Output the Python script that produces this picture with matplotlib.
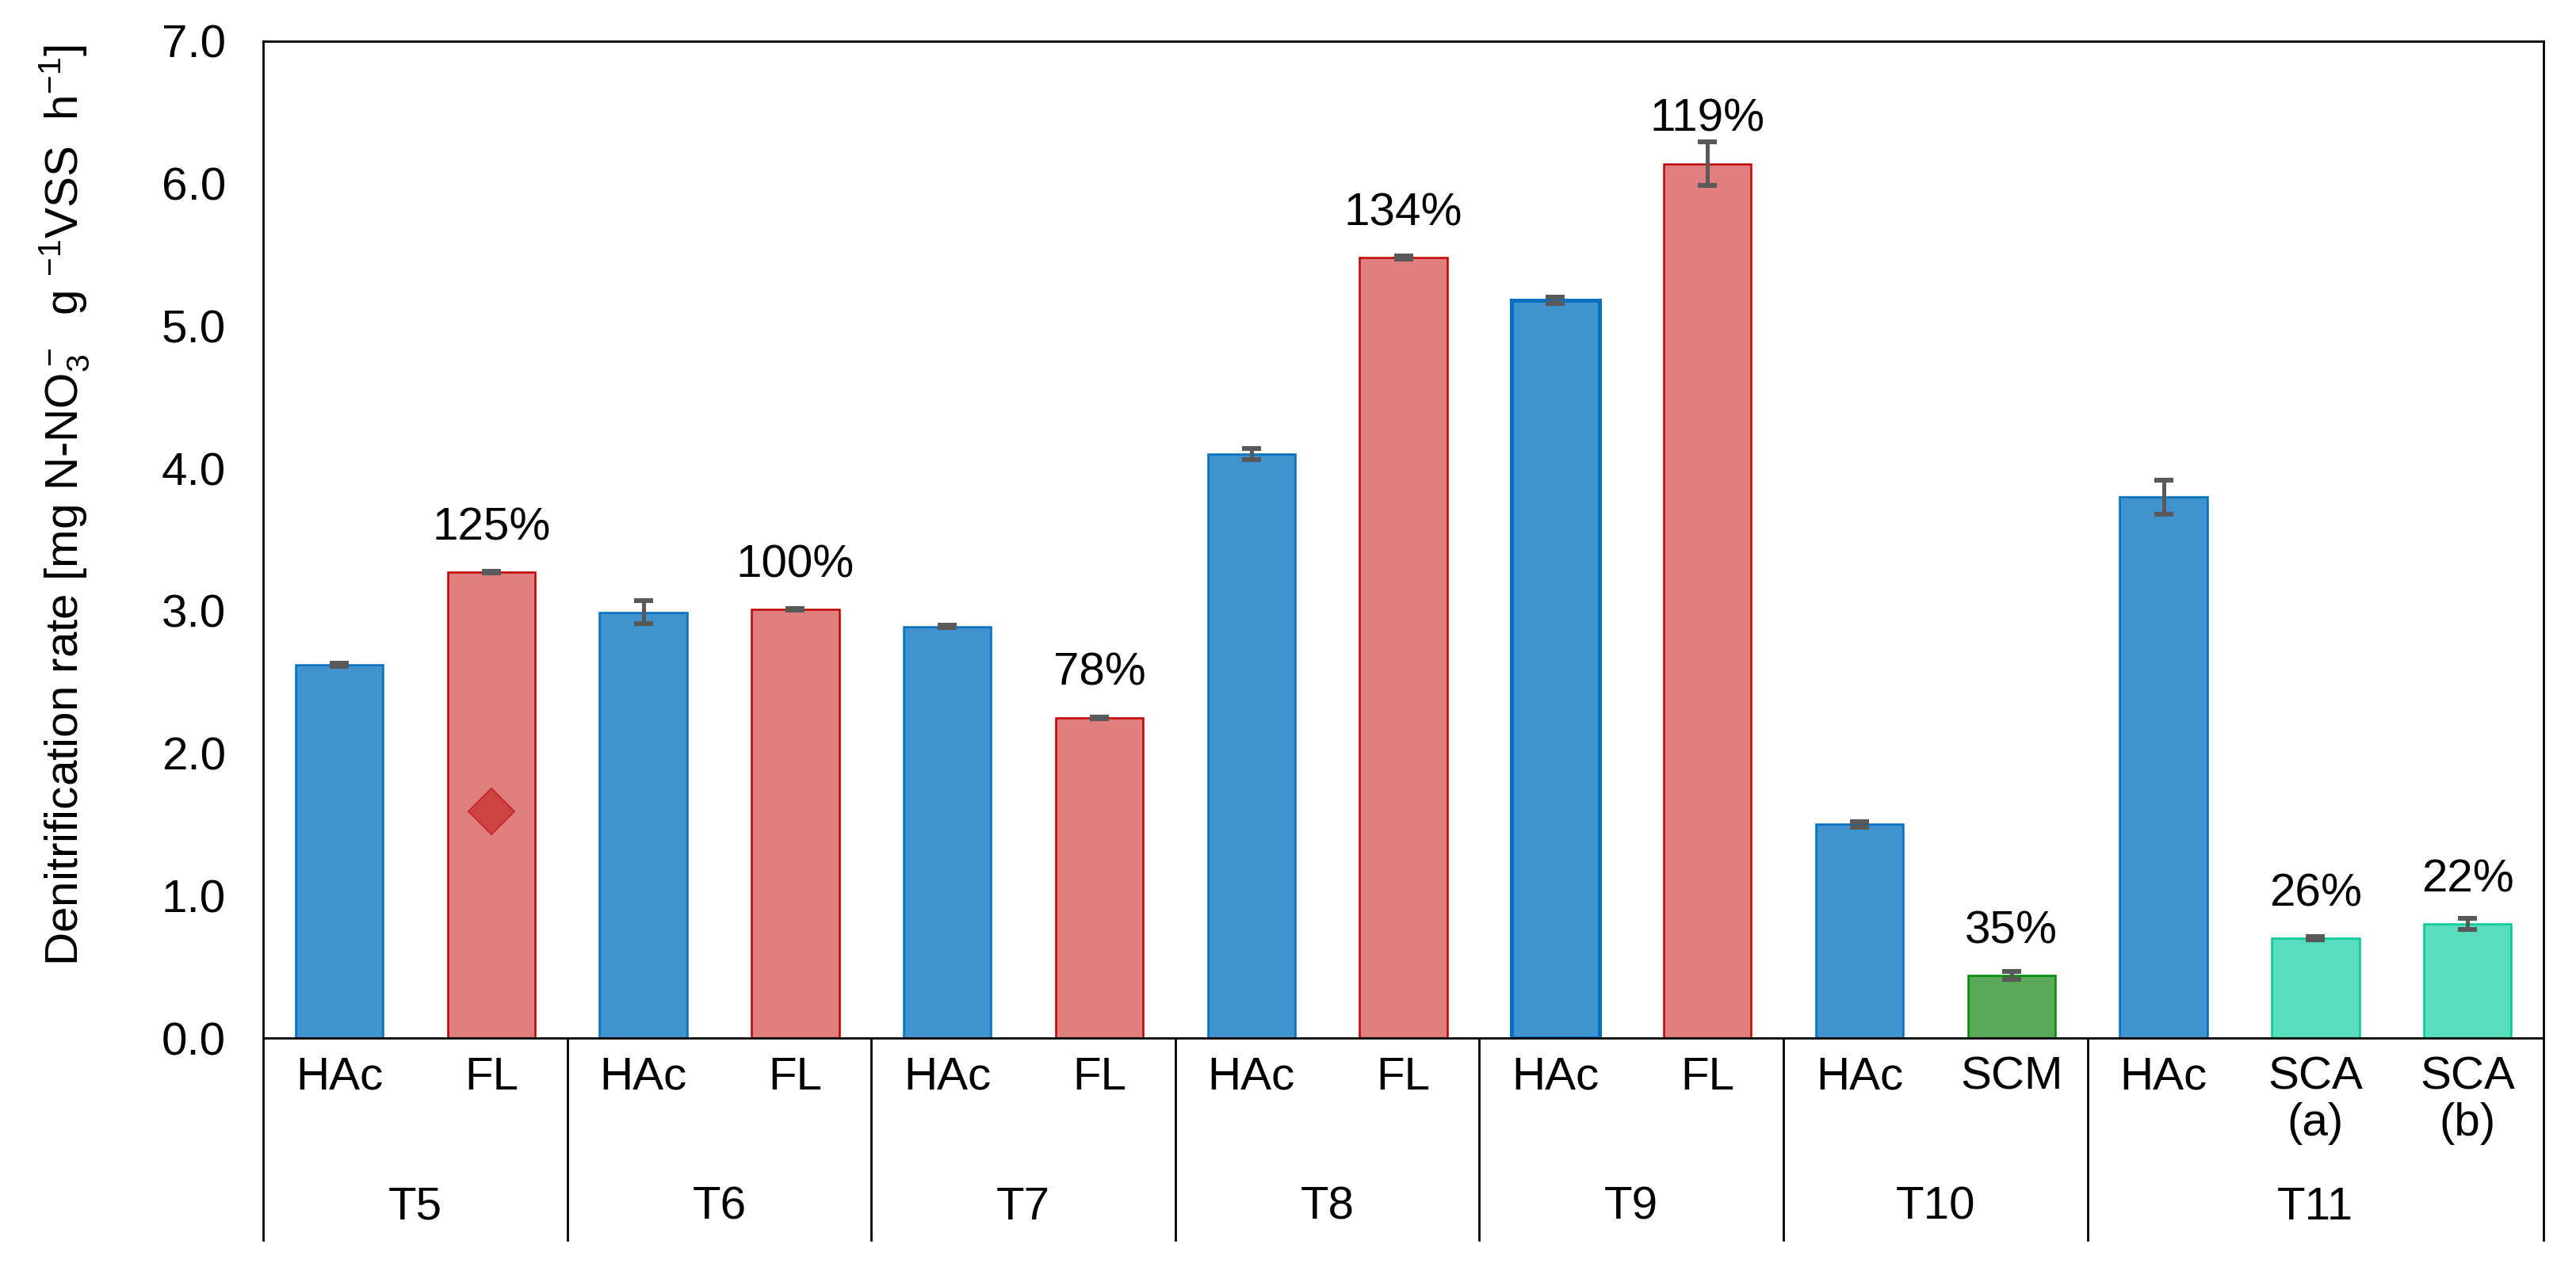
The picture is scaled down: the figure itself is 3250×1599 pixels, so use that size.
import numpy as np
import matplotlib.pyplot as plt
from matplotlib.transforms import blended_transform_factory

plt.rcParams['font.family'] = ['Liberation Sans', 'DejaVu Sans']
plt.rcParams['mathtext.fontset'] = 'custom'
plt.rcParams['mathtext.rm'] = 'Liberation Sans'
plt.rcParams['mathtext.it'] = 'Liberation Sans:italic'
plt.rcParams['mathtext.default'] = 'regular'

# data
groups = ['T5', 'T6', 'T7', 'T8', 'T9', 'T10', 'T11']
group_sizes = [2, 2, 2, 2, 2, 2, 3]
substrates = ['HAc', 'FL', 'HAc', 'FL', 'HAc', 'FL', 'HAc', 'FL',
              'HAc', 'FL', 'HAc', 'SCM', 'HAc', 'SCA\n(a)', 'SCA\n(b)']
rates = [2.62, 3.27, 2.99, 3.01, 2.89, 2.25, 4.10, 5.48,
         5.18, 6.14, 1.50, 0.44, 3.80, 0.70, 0.80]
errors = [0.01, 0.005, 0.08, 0.005, 0.01, 0.005, 0.04, 0.01,
          0.02, 0.155, 0.02, 0.03, 0.12, 0.01, 0.04]
percents = ['', '125%', '', '100%', '', '78%', '', '134%',
            '', '119%', '', '35%', '', '26%', '22%']
diamond_bar = 1
diamond_value = 1.59

fills = {'HAc': '#4193cf', 'FL': '#e07f7f', 'SCM': '#5aaa5a', 'SCA': '#58ddbd'}
edges = {'HAc': '#0070c0', 'FL': '#c00000', 'SCM': '#008a00', 'SCA': '#00c896'}

fig = plt.figure(figsize=(16.25, 7.995), dpi=200)
ax = fig.add_axes([0.1022, 0.1807, 0.8852, 0.7868])

x = np.arange(len(rates))
kinds = [s.split('\n')[0] for s in substrates]
lws = [0.9] * len(rates)
lws[8] = 1.8  # T9 HAc drawn with a heavier outline
ax.bar(x, rates, width=0.575, color=[fills[k] for k in kinds],
       edgecolor=[edges[k] for k in kinds], linewidth=lws, zorder=2)
ax.errorbar(x, rates, yerr=errors, fmt='none', ecolor='#595959',
            elinewidth=1.8, capsize=4.2, capthick=2.2, zorder=3)

ax.plot(diamond_bar, diamond_value, marker='D', markersize=15,
        markerfacecolor='#cc3c3c', markeredgecolor='#c82828',
        markeredgewidth=0.8, alpha=0.9, zorder=4)

for xi, v, p in zip(x, rates, percents):
    if p:
        ax.text(xi, v + 0.31, p, ha='center', va='center', fontsize=21)

ax.set_xlim(-0.5, len(rates) - 0.5)
ax.set_ylim(0, 7)
ax.set_yticks(np.arange(0, 7.5, 1.0))
ax.set_yticklabels(['%.1f' % t for t in np.arange(0, 7.5, 1.0)], fontsize=21)
ax.tick_params(axis='y', length=0, pad=17)
ax.set_xticks([])
for sp in ax.spines.values():
    sp.set_linewidth(1.0)
    sp.set_color('black')

ax.set_ylabel(r'Denitrification rate [mg N-NO$_3^-$  g $^{-1}$VSS  h$^{-1}$]',
              fontsize=21, labelpad=32)
ax.yaxis.label.set_y(0.535)

# two-level category axis
trans = blended_transform_factory(ax.transData, ax.transAxes)
for xi, s in zip(x, substrates):
    ax.text(xi, -0.018, s, transform=trans, ha='center', va='top',
            fontsize=21, linespacing=1.1, multialignment='center')

bounds = np.concatenate([[0], np.cumsum(group_sizes)]) - 0.5
for b in bounds:
    ax.plot([b, b], [0, -0.203], transform=trans, color='black',
            linewidth=1.0, clip_on=False)
for g, lo, hi in zip(groups, bounds[:-1], bounds[1:]):
    ax.text((lo + hi) / 2, -0.170, g, transform=trans, ha='center',
            va='center', fontsize=21)

plt.savefig('out.png', dpi=200)
